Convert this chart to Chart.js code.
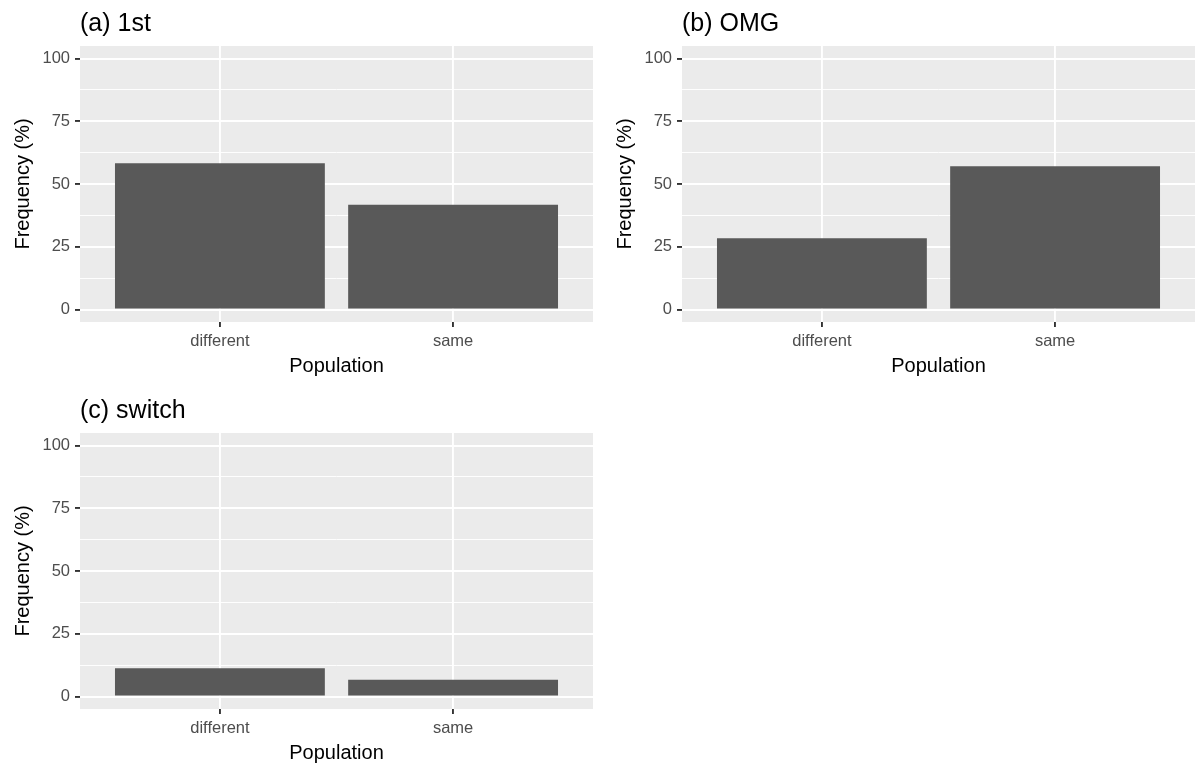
<!DOCTYPE html>
<html>
<head>
<meta charset="utf-8">
<script src="https://cdn.jsdelivr.net/npm/chart.js@4"></script>
<style>
  html, body { margin: 0; padding: 0; background: #ffffff; width: 1200px; height: 767px; overflow: hidden; }
  canvas { position: absolute; }
</style>
</head>
<body>
<canvas id="panelA" width="600" height="385" style="left:0px;top:0px"></canvas>
<canvas id="panelB" width="600" height="385" style="left:602px;top:0px"></canvas>
<canvas id="panelC" width="600" height="385" style="left:0px;top:387px"></canvas>
<script>
// Categories and frequencies (%) per panel
const populations = ['different', 'same'];
const freq1st = [58.3, 41.7];
const freqOMG = [28.4, 57.1];
const freqSwitch = [11.2, 6.7];
const panelTitles = ['(a) 1st', '(b) OMG', '(c) switch'];
const yMajorTicks = [0, 25, 50, 75, 100];
const yMinorTicks = [12.5, 37.5, 62.5, 87.5];
const xAxisTitle = 'Population';
const yAxisTitle = 'Frequency (%)';

const FONT = "'Liberation Sans', Arial, Helvetica, sans-serif";

// grey panel behind the grid
const panelBackground = {
  id: 'panelBackground',
  beforeDraw(chart) {
    const { ctx, chartArea: a } = chart;
    ctx.save();
    ctx.fillStyle = '#EBEBEB';
    ctx.fillRect(a.left, a.top, a.right - a.left, a.bottom - a.top);
    ctx.restore();
  }
};

function isMajor(v) { return yMajorTicks.includes(v); }

function makePanel(canvasId, title, values) {
  const points = populations.map((p, i) => ({ x: i + 1, y: values[i] }));
  return new Chart(document.getElementById(canvasId), {
    type: 'bar',
    data: {
      datasets: [{
        data: points,
        backgroundColor: '#595959',
        borderWidth: 0,
        categoryPercentage: 1.0,
        barPercentage: 0.9
      }]
    },
    plugins: [panelBackground],
    options: {
      responsive: false,
      animation: false,
      devicePixelRatio: 1,
      layout: { padding: { top: 0, left: 0, right: 7, bottom: 0 } },
      plugins: {
        legend: { display: false },
        tooltip: { enabled: false },
        title: {
          display: true,
          text: title,
          align: 'start',
          fullSize: false,
          color: '#000000',
          font: { family: FONT, size: 25, weight: 'normal' },
          padding: { top: 9, bottom: 7 }
        }
      },
      scales: {
        x: {
          type: 'linear',
          min: 0.4,
          max: 2.6,
          offset: false,
          afterBuildTicks(scale) {
            scale.ticks = populations.map((p, i) => ({ value: i + 1 }));
          },
          afterFit(scale) { scale.height = 63; },
          border: { display: false },
          grid: {
            offset: false,
            color: '#FFFFFF',
            lineWidth: 1.9,
            drawTicks: true,
            tickLength: 5,
            tickColor: '#333333',
            tickWidth: 1.9
          },
          ticks: {
            autoSkip: false,
            maxRotation: 0,
            padding: 5,
            color: '#4D4D4D',
            font: { family: FONT, size: 16.5 },
            callback: (v) => populations[v - 1] ?? ''
          },
          title: {
            display: true,
            text: xAxisTitle,
            color: '#000000',
            font: { family: FONT, size: 20 },
            padding: { top: 0, bottom: 6.5 }
          }
        },
        y: {
          type: 'linear',
          min: -5,
          max: 105,
          afterBuildTicks(scale) {
            scale.ticks = [...yMajorTicks, ...yMinorTicks]
              .sort((a, b) => a - b)
              .map(v => ({ value: v }));
          },
          afterFit(scale) { scale.width = 80; },
          border: { display: false },
          grid: {
            color: '#FFFFFF',
            lineWidth: (c) => isMajor(c.tick.value) ? 1.9 : 0.95,
            drawTicks: true,
            tickLength: 5,
            tickColor: (c) => isMajor(c.tick.value) ? '#333333' : 'rgba(0,0,0,0)',
            tickWidth: (c) => isMajor(c.tick.value) ? 1.9 : 0
          },
          ticks: {
            autoSkip: false,
            padding: 5,
            color: '#4D4D4D',
            font: { family: FONT, size: 16.5 },
            callback: (v) => isMajor(v) ? String(v) : ''
          },
          title: {
            display: true,
            text: yAxisTitle,
            color: '#000000',
            font: { family: FONT, size: 20 },
            padding: { top: 11, bottom: 0 }
          }
        }
      }
    }
  });
}

makePanel('panelA', panelTitles[0], freq1st);
makePanel('panelB', panelTitles[1], freqOMG);
makePanel('panelC', panelTitles[2], freqSwitch);
</script>
</body>
</html>
